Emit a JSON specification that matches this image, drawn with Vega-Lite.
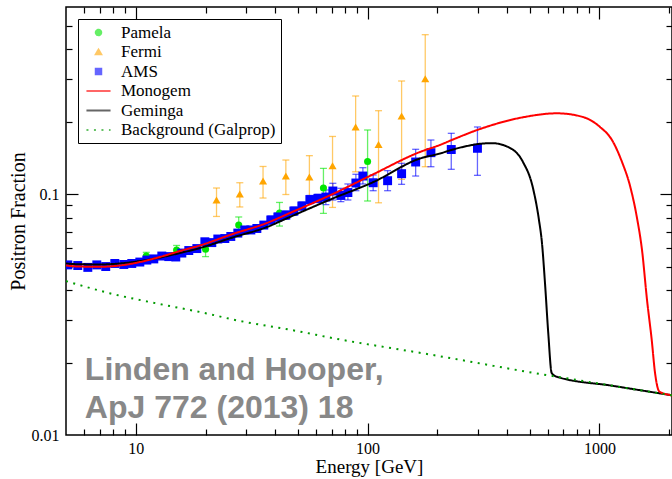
{
  "$schema": "https://vega.github.io/schema/vega-lite/v6.json",
  "width": 606,
  "height": 428,
  "autosize": {"type": "none"},
  "padding": {"left": 66, "top": 7, "right": 0, "bottom": 44},
  "background": "white",
  "config": {
    "view": {"stroke": "black", "strokeWidth": 1.5},
    "font": "Liberation Serif",
    "axis": {
      "grid": false,
      "labelFont": "Liberation Serif",
      "titleFont": "Liberation Serif",
      "labelColor": "black",
      "titleColor": "black",
      "tickColor": "black",
      "titleFontWeight": "normal"
    }
  },
  "datasets": {
    "obs": [
      {"series": "Pamela", "energy": 11.1, "fraction": 0.0554, "lo": 0.0533, "hi": 0.0574},
      {"series": "Pamela", "energy": 15.0, "fraction": 0.0587, "lo": 0.0563, "hi": 0.0613},
      {"series": "Pamela", "energy": 20.0, "fraction": 0.0591, "lo": 0.0551, "hi": 0.0616},
      {"series": "Pamela", "energy": 27.8, "fraction": 0.0746, "lo": 0.0697, "hi": 0.0805},
      {"series": "Pamela", "energy": 41.7, "fraction": 0.0836, "lo": 0.0738, "hi": 0.0925},
      {"series": "Pamela", "energy": 64.5, "fraction": 0.1062, "lo": 0.0834, "hi": 0.1282},
      {"series": "Pamela", "energy": 100.0, "fraction": 0.1369, "lo": 0.0938, "hi": 0.185},
      {"series": "Fermi", "energy": 22.3, "fraction": 0.0947, "lo": 0.0809, "hi": 0.1062},
      {"series": "Fermi", "energy": 28.1, "fraction": 0.1003, "lo": 0.0886, "hi": 0.1117},
      {"series": "Fermi", "energy": 35.4, "fraction": 0.1136, "lo": 0.0965, "hi": 0.1305},
      {"series": "Fermi", "energy": 44.4, "fraction": 0.1191, "lo": 0.0998, "hi": 0.1388},
      {"series": "Fermi", "energy": 56.1, "fraction": 0.118, "lo": 0.0956, "hi": 0.1447},
      {"series": "Fermi", "energy": 70.6, "fraction": 0.1315, "lo": 0.0882, "hi": 0.1739},
      {"series": "Fermi", "energy": 88.8, "fraction": 0.1904, "lo": 0.124, "hi": 0.2561},
      {"series": "Fermi", "energy": 111.5, "fraction": 0.161, "lo": 0.0922, "hi": 0.2225},
      {"series": "Fermi", "energy": 140.2, "fraction": 0.2115, "lo": 0.1154, "hi": 0.2956},
      {"series": "Fermi", "energy": 177.3, "fraction": 0.3021, "lo": 0.1302, "hi": 0.4604},
      {"series": "AMS", "energy": 5.09, "fraction": 0.0509, "lo": 0.0501, "hi": 0.0517},
      {"series": "AMS", "energy": 5.62, "fraction": 0.0506, "lo": 0.0498, "hi": 0.0514},
      {"series": "AMS", "energy": 6.21, "fraction": 0.0497, "lo": 0.049, "hi": 0.0504},
      {"series": "AMS", "energy": 6.79, "fraction": 0.0509, "lo": 0.0501, "hi": 0.0517},
      {"series": "AMS", "energy": 7.42, "fraction": 0.0501, "lo": 0.0494, "hi": 0.0509},
      {"series": "AMS", "energy": 8.12, "fraction": 0.0516, "lo": 0.0508, "hi": 0.0524},
      {"series": "AMS", "energy": 8.88, "fraction": 0.0511, "lo": 0.0503, "hi": 0.0519},
      {"series": "AMS", "energy": 9.61, "fraction": 0.0516, "lo": 0.0508, "hi": 0.0524},
      {"series": "AMS", "energy": 10.41, "fraction": 0.0523, "lo": 0.0515, "hi": 0.0531},
      {"series": "AMS", "energy": 11.16, "fraction": 0.0533, "lo": 0.0525, "hi": 0.0541},
      {"series": "AMS", "energy": 11.96, "fraction": 0.0539, "lo": 0.0531, "hi": 0.0547},
      {"series": "AMS", "energy": 12.95, "fraction": 0.0554, "lo": 0.0546, "hi": 0.0562},
      {"series": "AMS", "energy": 13.88, "fraction": 0.0551, "lo": 0.0543, "hi": 0.0559},
      {"series": "AMS", "energy": 14.88, "fraction": 0.0549, "lo": 0.0541, "hi": 0.0557},
      {"series": "AMS", "energy": 15.8, "fraction": 0.057, "lo": 0.0561, "hi": 0.0579},
      {"series": "AMS", "energy": 16.93, "fraction": 0.0584, "lo": 0.0575, "hi": 0.0593},
      {"series": "AMS", "energy": 18.34, "fraction": 0.0595, "lo": 0.0586, "hi": 0.0604},
      {"series": "AMS", "energy": 19.86, "fraction": 0.0635, "lo": 0.0619, "hi": 0.0651},
      {"series": "AMS", "energy": 21.28, "fraction": 0.063, "lo": 0.0614, "hi": 0.0646},
      {"series": "AMS", "energy": 22.59, "fraction": 0.0652, "lo": 0.0636, "hi": 0.0668},
      {"series": "AMS", "energy": 24.22, "fraction": 0.0655, "lo": 0.0639, "hi": 0.0671},
      {"series": "AMS", "energy": 25.7, "fraction": 0.0668, "lo": 0.0651, "hi": 0.0685},
      {"series": "AMS", "energy": 27.55, "fraction": 0.069, "lo": 0.0673, "hi": 0.0707},
      {"series": "AMS", "energy": 29.54, "fraction": 0.0711, "lo": 0.0693, "hi": 0.0729},
      {"series": "AMS", "energy": 31.36, "fraction": 0.0711, "lo": 0.0693, "hi": 0.0729},
      {"series": "AMS", "energy": 33.29, "fraction": 0.0721, "lo": 0.0703, "hi": 0.0739},
      {"series": "AMS", "energy": 35.67, "fraction": 0.0745, "lo": 0.0726, "hi": 0.0764},
      {"series": "AMS", "energy": 38.24, "fraction": 0.0782, "lo": 0.0751, "hi": 0.0813},
      {"series": "AMS", "energy": 41.02, "fraction": 0.0805, "lo": 0.0773, "hi": 0.0837},
      {"series": "AMS", "energy": 44.41, "fraction": 0.082, "lo": 0.0787, "hi": 0.0853},
      {"series": "AMS", "energy": 48.08, "fraction": 0.0852, "lo": 0.0818, "hi": 0.0886},
      {"series": "AMS", "energy": 52.05, "fraction": 0.0894, "lo": 0.0858, "hi": 0.093},
      {"series": "AMS", "energy": 56.36, "fraction": 0.0951, "lo": 0.0913, "hi": 0.0989},
      {"series": "AMS", "energy": 61.03, "fraction": 0.0962, "lo": 0.0924, "hi": 0.1},
      {"series": "AMS", "energy": 66.07, "fraction": 0.0974, "lo": 0.0906, "hi": 0.1042},
      {"series": "AMS", "energy": 70.83, "fraction": 0.1032, "lo": 0.0947, "hi": 0.1111},
      {"series": "AMS", "energy": 76.69, "fraction": 0.0989, "lo": 0.0932, "hi": 0.1059},
      {"series": "AMS", "energy": 82.22, "fraction": 0.1017, "lo": 0.0947, "hi": 0.1104},
      {"series": "AMS", "energy": 89.03, "fraction": 0.1114, "lo": 0.1035, "hi": 0.1211},
      {"series": "AMS", "energy": 95.43, "fraction": 0.1191, "lo": 0.1104, "hi": 0.129},
      {"series": "AMS", "energy": 105.7, "fraction": 0.1117, "lo": 0.1035, "hi": 0.1203},
      {"series": "AMS", "energy": 122.0, "fraction": 0.1139, "lo": 0.1035, "hi": 0.1254},
      {"series": "AMS", "energy": 140.2, "fraction": 0.1218, "lo": 0.11, "hi": 0.1345},
      {"series": "AMS", "energy": 161.2, "fraction": 0.1362, "lo": 0.1191, "hi": 0.1538},
      {"series": "AMS", "energy": 187.6, "fraction": 0.1489, "lo": 0.1302, "hi": 0.1681},
      {"series": "AMS", "energy": 229.6, "fraction": 0.1535, "lo": 0.127, "hi": 0.1792},
      {"series": "AMS", "energy": 297.8, "fraction": 0.1553, "lo": 0.1199, "hi": 0.1904}
    ],
    "models": [
      {"series": "Geminga", "energy": 5.0, "fraction": 0.0516},
      {"series": "Geminga", "energy": 5.73, "fraction": 0.0512},
      {"series": "Geminga", "energy": 6.99, "fraction": 0.0511},
      {"series": "Geminga", "energy": 8.53, "fraction": 0.0516},
      {"series": "Geminga", "energy": 10.41, "fraction": 0.0528},
      {"series": "Geminga", "energy": 12.69, "fraction": 0.0546},
      {"series": "Geminga", "energy": 15.48, "fraction": 0.057},
      {"series": "Geminga", "energy": 18.89, "fraction": 0.0598},
      {"series": "Geminga", "energy": 26.21, "fraction": 0.0662},
      {"series": "Geminga", "energy": 36.76, "fraction": 0.0731},
      {"series": "Geminga", "energy": 46.21, "fraction": 0.0805},
      {"series": "Geminga", "energy": 70.83, "fraction": 0.0961},
      {"series": "Geminga", "energy": 105.4, "fraction": 0.1122},
      {"series": "Geminga", "energy": 168.2, "fraction": 0.1408},
      {"series": "Geminga", "energy": 205.0, "fraction": 0.1477},
      {"series": "Geminga", "energy": 233.5, "fraction": 0.1535},
      {"series": "Geminga", "energy": 268.3, "fraction": 0.1587},
      {"series": "Geminga", "energy": 305.3, "fraction": 0.1621},
      {"series": "Geminga", "energy": 344.0, "fraction": 0.1631},
      {"series": "Geminga", "energy": 399.2, "fraction": 0.158},
      {"series": "Geminga", "energy": 468.1, "fraction": 0.1362},
      {"series": "Geminga", "energy": 516.9, "fraction": 0.1062},
      {"series": "Geminga", "energy": 548.7, "fraction": 0.0782},
      {"series": "Geminga", "energy": 565.3, "fraction": 0.0628},
      {"series": "Geminga", "energy": 582.5, "fraction": 0.0428},
      {"series": "Geminga", "energy": 601.8, "fraction": 0.0265},
      {"series": "Geminga", "energy": 622.5, "fraction": 0.0181},
      {"series": "Geminga", "energy": 654.2, "fraction": 0.01747},
      {"series": "Geminga", "energy": 1145, "fraction": 0.016},
      {"series": "Geminga", "energy": 2017, "fraction": 0.01466},
      {"series": "Geminga", "energy": 2162, "fraction": 0.0145},
      {"series": "Monogem", "energy": 5.0, "fraction": 0.0506},
      {"series": "Monogem", "energy": 5.73, "fraction": 0.0501},
      {"series": "Monogem", "energy": 6.99, "fraction": 0.05},
      {"series": "Monogem", "energy": 8.53, "fraction": 0.0506},
      {"series": "Monogem", "energy": 10.41, "fraction": 0.0523},
      {"series": "Monogem", "energy": 12.69, "fraction": 0.0549},
      {"series": "Monogem", "energy": 15.48, "fraction": 0.0581},
      {"series": "Monogem", "energy": 18.89, "fraction": 0.0613},
      {"series": "Monogem", "energy": 26.21, "fraction": 0.0684},
      {"series": "Monogem", "energy": 36.76, "fraction": 0.076},
      {"series": "Monogem", "energy": 46.21, "fraction": 0.0836},
      {"series": "Monogem", "energy": 70.83, "fraction": 0.1003},
      {"series": "Monogem", "energy": 105.4, "fraction": 0.1209},
      {"series": "Monogem", "energy": 168.2, "fraction": 0.1499},
      {"series": "Monogem", "energy": 205.0, "fraction": 0.1603},
      {"series": "Monogem", "energy": 233.5, "fraction": 0.1689},
      {"series": "Monogem", "energy": 305.3, "fraction": 0.1867},
      {"series": "Monogem", "energy": 468.1, "fraction": 0.2089},
      {"series": "Monogem", "energy": 656.2, "fraction": 0.217},
      {"series": "Monogem", "energy": 849.5, "fraction": 0.2095},
      {"series": "Monogem", "energy": 1006, "fraction": 0.1904},
      {"series": "Monogem", "energy": 1133, "fraction": 0.1681},
      {"series": "Monogem", "energy": 1252, "fraction": 0.1362},
      {"series": "Monogem", "energy": 1356, "fraction": 0.1083},
      {"series": "Monogem", "energy": 1453, "fraction": 0.0797},
      {"series": "Monogem", "energy": 1527, "fraction": 0.0587},
      {"series": "Monogem", "energy": 1605, "fraction": 0.0364},
      {"series": "Monogem", "energy": 1682, "fraction": 0.0248},
      {"series": "Monogem", "energy": 1738, "fraction": 0.0181},
      {"series": "Monogem", "energy": 1814, "fraction": 0.01516},
      {"series": "Monogem", "energy": 2017, "fraction": 0.01466},
      {"series": "Monogem", "energy": 2162, "fraction": 0.0145},
      {"series": "Background (Galprop)", "energy": 5.0, "fraction": 0.0436},
      {"series": "Background (Galprop)", "energy": 7.72, "fraction": 0.0388},
      {"series": "Background (Galprop)", "energy": 12.69, "fraction": 0.035},
      {"series": "Background (Galprop)", "energy": 20.19, "fraction": 0.032},
      {"series": "Background (Galprop)", "energy": 26.21, "fraction": 0.0302},
      {"series": "Background (Galprop)", "energy": 51.0, "fraction": 0.0269},
      {"series": "Background (Galprop)", "energy": 68.76, "fraction": 0.0254},
      {"series": "Background (Galprop)", "energy": 185.7, "fraction": 0.0216},
      {"series": "Background (Galprop)", "energy": 572.6, "fraction": 0.01784},
      {"series": "Background (Galprop)", "energy": 654.2, "fraction": 0.01747},
      {"series": "Background (Galprop)", "energy": 1145, "fraction": 0.016},
      {"series": "Background (Galprop)", "energy": 2017, "fraction": 0.01466},
      {"series": "Background (Galprop)", "energy": 2162, "fraction": 0.0145}
    ]
  },
  "resolve": {"axis": {"x": "independent", "y": "independent"}},
  "layer": [
    {
      "data": {"values": [{}]},
      "mark": {
        "type": "text",
        "text": ["Linden and Hooper,", "ApJ 772 (2013) 18"],
        "font": "Liberation Sans",
        "fontWeight": "bold",
        "fontSize": 32,
        "color": "#888888",
        "align": "left",
        "baseline": "alphabetic",
        "lineHeight": 38
      },
      "encoding": {
        "x": {"datum": 6.03, "type": "quantitative", "scale": {"type": "log", "domain": [5, 2057], "nice": false}, "axis": null},
        "y": {"datum": 0.0169, "type": "quantitative", "scale": {"type": "log", "domain": [0.01, 0.6], "nice": false}, "axis": null}
      }
    },
    {
      "data": {"name": "obs"},
      "mark": {"type": "rule", "strokeWidth": 1.3, "opacity": 0.6, "clip": true},
      "encoding": {
        "x": {
          "field": "energy", "type": "quantitative",
          "scale": {"type": "log", "domain": [5, 2057], "nice": false},
          "axis": {
            "orient": "bottom", "title": null, "labels": false, "domain": false, "grid": false,
            "values": [6, 7, 8, 9, 10, 20, 30, 40, 50, 60, 70, 80, 90, 100, 200, 300, 400, 500, 600, 700, 800, 900, 1000, 2000],
            "tickSize": {"condition": {"test": "datum.value == 10 || datum.value == 100 || datum.value == 1000", "value": -12}, "value": -6},
            "tickWidth": 1.2
          }
        },
        "y": {
          "field": "lo", "type": "quantitative",
          "scale": {"type": "log", "domain": [0.01, 0.6], "nice": false},
          "axis": {
            "orient": "left", "title": null, "labels": false, "domain": false, "grid": false,
            "values": [0.02, 0.03, 0.04, 0.05, 0.06, 0.07, 0.08, 0.09, 0.1, 0.2, 0.3, 0.4, 0.5],
            "tickSize": {"condition": {"test": "datum.value == 0.1", "value": -12}, "value": -6},
            "tickWidth": 1.2
          }
        },
        "y2": {"field": "hi"},
        "color": {
          "field": "series", "type": "nominal",
          "scale": {"domain": ["Pamela", "Fermi", "AMS", "Monogem", "Geminga", "Background (Galprop)"], "range": ["#00e600", "#ffa500", "#0000ff", "#ff0000", "#000000", "#009a00"]},
          "legend": {
            "orient": "none",
            "legendX": 12,
            "legendY": 12,
            "title": null,
            "padding": 5,
            "strokeColor": "black",
            "fillColor": "white",
            "labelFont": "Liberation Serif",
            "labelFontSize": 17,
            "labelColor": "black",
            "symbolSize": 30,
            "symbolStrokeWidth": 2,
            "symbolOpacity": 1,
            "symbolOffset": 7,
            "labelOffset": 14,
            "rowPadding": 1.5
          }
        }
      }
    },
    {
      "data": {"name": "obs"},
      "mark": {"type": "tick", "orient": "horizontal", "size": 7, "thickness": 1.3, "opacity": 0.6, "clip": true},
      "encoding": {
        "x": {
          "field": "energy", "type": "quantitative",
          "scale": {"type": "log", "domain": [5, 2057], "nice": false},
          "axis": {
            "orient": "top", "title": null, "labels": false, "domain": false, "grid": false,
            "values": [6, 7, 8, 9, 10, 20, 30, 40, 50, 60, 70, 80, 90, 100, 200, 300, 400, 500, 600, 700, 800, 900, 1000, 2000],
            "tickSize": {"condition": {"test": "datum.value == 10 || datum.value == 100 || datum.value == 1000", "value": -12}, "value": -6},
            "tickWidth": 1.2
          }
        },
        "y": {
          "field": "lo", "type": "quantitative",
          "scale": {"type": "log", "domain": [0.01, 0.6], "nice": false},
          "axis": {
            "orient": "right", "title": null, "labels": false, "domain": false, "grid": false,
            "values": [0.02, 0.03, 0.04, 0.05, 0.06, 0.07, 0.08, 0.09, 0.1, 0.2, 0.3, 0.4, 0.5],
            "tickSize": {"condition": {"test": "datum.value == 0.1", "value": -12}, "value": -6},
            "tickWidth": 1.2
          }
        },
        "color": {"field": "series", "type": "nominal"}
      }
    },
    {
      "data": {"name": "obs"},
      "mark": {"type": "tick", "orient": "horizontal", "size": 7, "thickness": 1.3, "opacity": 0.6, "clip": true},
      "encoding": {
        "x": {"field": "energy", "type": "quantitative", "scale": {"type": "log", "domain": [5, 2057], "nice": false}, "axis": null},
        "y": {"field": "hi", "type": "quantitative", "scale": {"type": "log", "domain": [0.01, 0.6], "nice": false}, "axis": null},
        "color": {"field": "series", "type": "nominal"}
      }
    },
    {
      "data": {"name": "obs"},
      "mark": {"type": "point", "filled": true, "opacity": 1, "clip": true},
      "encoding": {
        "x": {"field": "energy", "type": "quantitative", "scale": {"type": "log", "domain": [5, 2057], "nice": false}, "axis": null},
        "y": {"field": "fraction", "type": "quantitative", "scale": {"type": "log", "domain": [0.01, 0.6], "nice": false}, "axis": null},
        "color": {"field": "series", "type": "nominal"},
        "shape": {
          "field": "series", "type": "nominal",
          "scale": {"domain": ["Pamela", "Fermi", "AMS", "Monogem", "Geminga", "Background (Galprop)"], "range": ["circle", "triangle-up", "square", "M-4.4,0L4.4,0", "M-4.4,0L4.4,0", "M-4.4,0L4.4,0"]}
        },
        "size": {
          "field": "series", "type": "ordinal",
          "scale": {"domain": ["Pamela", "Fermi", "AMS"], "range": [50, 80, 72]},
          "legend": null
        }
      }
    },
    {
      "data": {"name": "models"},
      "mark": {"type": "line", "strokeWidth": 2, "interpolate": "monotone", "clip": true},
      "encoding": {
        "x": {
          "field": "energy", "type": "quantitative",
          "scale": {"type": "log", "domain": [5, 2057], "nice": false},
          "axis": {
            "orient": "bottom", "values": [10, 100, 1000], "format": "d",
            "ticks": false, "domain": false, "grid": false,
            "labelFontSize": 16, "labelPadding": 5, "labelFlush": false, "labelOverlap": false,
            "title": "Energy [GeV]", "titleFontSize": 19, "titlePadding": 1
          }
        },
        "y": {
          "field": "fraction", "type": "quantitative",
          "scale": {"type": "log", "domain": [0.01, 0.6], "nice": false},
          "axis": {
            "orient": "left", "values": [0.01, 0.1],
            "labelExpr": "datum.value < 0.05 ? '0.01' : '0.1'",
            "ticks": false, "domain": false, "grid": false,
            "labelFontSize": 16, "labelPadding": 7, "labelFlush": false, "labelOverlap": false,
            "title": "Positron Fraction", "titleFontSize": 20, "titlePadding": 3
          }
        },
        "color": {"field": "series", "type": "nominal"},
        "strokeDash": {
          "field": "series", "type": "nominal",
          "scale": {"domain": ["Pamela", "Fermi", "AMS", "Monogem", "Geminga", "Background (Galprop)"], "range": [[1, 0], [1, 0], [1, 0], [1, 0], [1, 0], [2, 5.5]]}
        }
      }
    }
  ]
}
